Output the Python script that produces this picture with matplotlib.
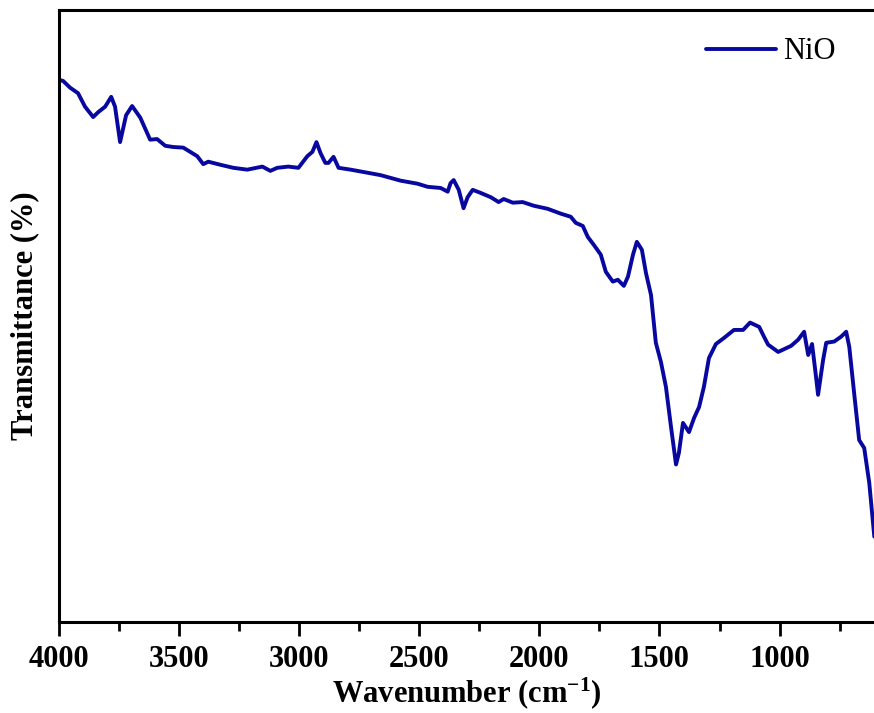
import matplotlib.pyplot as plt
from matplotlib.ticker import MultipleLocator

plt.rcParams['font.family'] = ['Liberation Serif', 'DejaVu Serif']
plt.rcParams['mathtext.fontset'] = 'custom'
plt.rcParams['mathtext.rm'] = 'Liberation Serif:bold'
plt.rcParams['mathtext.it'] = 'Liberation Serif:bold'
plt.rcParams['mathtext.bf'] = 'Liberation Serif:bold'

# FTIR spectrum of NiO
wavenumber = [4000, 3981, 3952, 3919, 3890, 3856, 3835, 3806, 3781, 3765,
              3744, 3719, 3694, 3660, 3619, 3590, 3556, 3523, 3481, 3423,
              3398, 3377, 3327, 3273, 3215, 3152, 3119, 3090, 3044, 3002,
              2965, 2944, 2927, 2910, 2890, 2877, 2856, 2835, 2785, 2715,
              2660, 2577, 2506, 2465, 2410, 2381, 2369, 2356, 2335, 2315,
              2298, 2277, 2244, 2202, 2169, 2148, 2110, 2069, 2023, 1965,
              1910, 1869, 1848, 1819, 1798, 1773, 1744, 1723, 1694, 1673,
              1648, 1631, 1610, 1594, 1573, 1556, 1535, 1515, 1494, 1473,
              1452, 1431, 1419, 1402, 1377, 1356, 1335, 1315, 1294, 1265,
              1231, 1190, 1152, 1123, 1085, 1065, 1048, 1006, 952, 923,
              898, 881, 865, 852, 840, 819, 806, 773, 744, 723,
              710, 690, 669, 648, 627, 606]
transmittance = [88.6, 88.4, 87.3, 86.4, 84.2, 82.5, 83.3, 84.2, 85.8, 84.2,
                 78.4, 82.8, 84.3, 82.4, 78.8, 78.9, 77.8, 77.6, 77.5, 76.1,
                 74.8, 75.2, 74.7, 74.2, 73.9, 74.4, 73.7, 74.2, 74.4, 74.2,
                 76.1, 76.8, 78.4, 76.6, 75.0, 75.0, 76.0, 74.2, 73.9, 73.4,
                 73.0, 72.1, 71.6, 71.1, 70.9, 70.3, 71.7, 72.2, 70.6, 67.6,
                 69.4, 70.6, 70.1, 69.4, 68.6, 69.1, 68.5, 68.6, 68.0, 67.5,
                 66.7, 66.2, 65.2, 64.7, 62.9, 61.6, 60.0, 57.2, 55.6, 55.9,
                 54.9, 56.4, 60.0, 62.1, 60.8, 57.0, 53.4, 45.6, 42.5, 38.4,
                 31.9, 25.7, 27.6, 32.5, 31.0, 33.3, 35.1, 38.4, 43.1, 45.4,
                 46.4, 47.7, 47.7, 48.9, 48.2, 46.6, 45.3, 44.1, 45.1, 46.1,
                 47.4, 43.6, 45.4, 41.2, 37.1, 42.8, 45.6, 45.8, 46.6, 47.4,
                 44.9, 37.4, 29.7, 28.4, 22.7, 13.9]

fig = plt.figure(figsize=(8.74, 7.13), dpi=100)
ax = fig.add_axes([0.067, 0.128, 0.935, 0.858])

ax.plot(wavenumber, transmittance, color='#0808a0', linewidth=2.8,
        solid_joinstyle='round', solid_capstyle='round', label='NiO')

ax.set_xlim(4000, 600)
ax.set_ylim(0, 100)
ax.set_xticks([4000, 3500, 3000, 2500, 2000, 1500, 1000])
ax.xaxis.set_minor_locator(MultipleLocator(250))
ax.set_yticks([])

for s in ['left', 'bottom', 'top']:
    ax.spines[s].set_linewidth(2.2)
ax.spines['right'].set_visible(False)

ax.tick_params(axis='x', which='major', direction='out', length=10, width=2, pad=7)
ax.tick_params(axis='x', which='minor', direction='out', length=6.5, width=2)
for lab in ax.get_xticklabels():
    lab.set_fontsize(22)
    lab.set_fontweight('bold')

ax.set_xlabel('Wavenumber (cm$^{-1}$)', fontsize=22, fontweight='bold', labelpad=1)
ax.set_ylabel('Transmittance (%)', fontsize=22, fontweight='bold', labelpad=14)

ax.legend(loc='upper right', bbox_to_anchor=(0.985, 1.0), frameon=False,
          fontsize=22, handlelength=2.3, handletextpad=0.25)

plt.savefig('out.png', dpi=100)
